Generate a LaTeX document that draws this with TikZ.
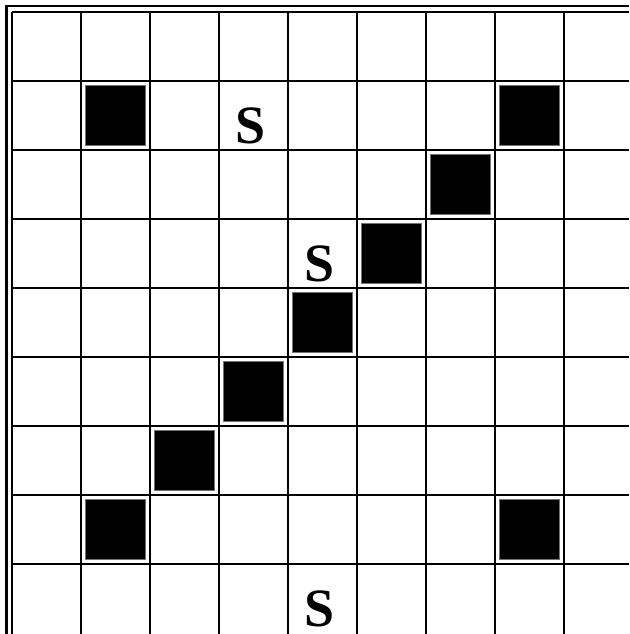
\documentclass[tikz,border=0pt]{standalone}
\usepackage{fontspec}
\setmainfont{Liberation Serif}
\begin{document}
\begin{tikzpicture}[x=1pt,y=-1pt,
  gridline/.style={line width=2.7pt,black},
  frameline/.style={line width=2.4pt,black},
  blk/.style={fill=black,draw=black!55,line width=1pt},
  letter/.style={anchor=base,inner sep=0pt,font=\fontsize{54}{54}\selectfont\bfseries}]
\useasboundingbox[fill=white] (0,0) rectangle (629,634);
% outer frame line
\draw[frameline] (6.5,634) -- (6.5,6) -- (629,6);
% grid lines
\foreach \k in {0,...,8}{
  \draw[gridline] ({12+69*\k},12) -- ({12+69*\k},634);
  \draw[gridline] (12,{12+69*\k}) -- (629,{12+69*\k});
}
% black squares (col,row)
\foreach \c/\r in {1/1,7/1,6/2,5/3,4/4,3/5,2/6,1/7,7/7}{
  \draw[blk] ({12+69*\c+4.5},{12+69*\r+4.5}) rectangle ++(60,60);
}
% letters
\node[letter] (s1) at ({12+69*3+32},{12+69*1+62.5}) {S};
\node[letter] (s2) at ({12+69*4+32},{12+69*3+62.5}) {S};
\node[letter] (s3) at ({12+69*4+32},{12+69*8+62.5}) {S};
\end{tikzpicture}
\end{document}
